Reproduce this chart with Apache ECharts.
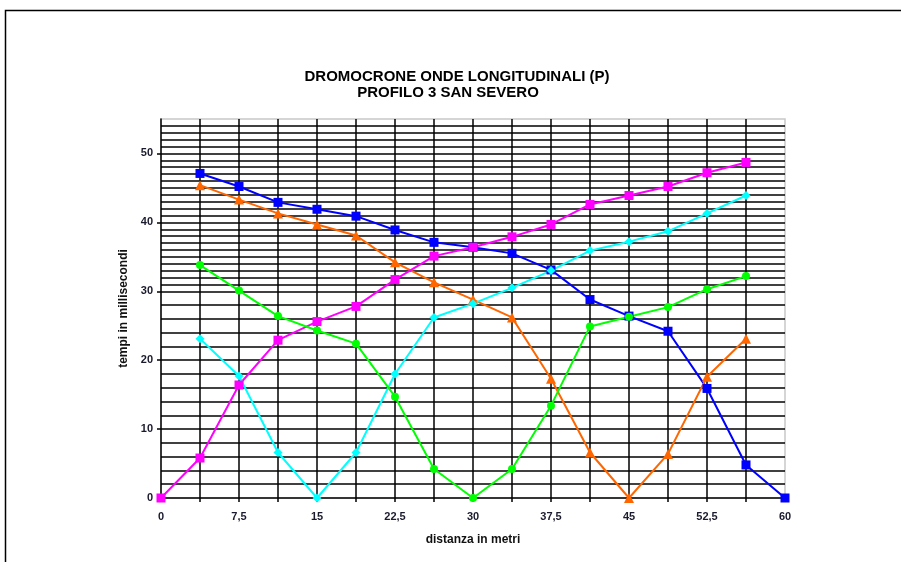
<!DOCTYPE html>
<html>
<head>
<meta charset="utf-8">
<title>Dromocrone onde longitudinali (P)</title>
<script src="https://cdn.jsdelivr.net/npm/echarts@6/dist/echarts.min.js"></script>
<style>
  html, body { margin: 0; padding: 0; background: #fff; }
  #chart { width: 901px; height: 562px; }
</style>
</head>
<body>
<div id="chart"></div>
<script>
// Distances of the geophones (m)
var distanze = [0, 3.75, 7.5, 11.25, 15, 18.75, 22.5, 26.25, 30, 33.75, 37.5, 41.25, 45, 48.75, 52.5, 56.25, 60];

// First-arrival times (ms) for each shot point; null where the shot has no reading
var tempiScoppio60 = [null, 47.1, 45.2, 42.9, 41.9, 40.9, 38.9, 37.1, 36.4, 35.5, 33.1, 28.8, 26.4, 24.2, 15.9, 4.8, 0];
var tempiScoppio45 = [null, 45.4, 43.3, 41.3, 39.7, 38.1, 34.2, 31.3, 28.8, 26.2, 17.3, 6.6, 0, 6.4, 17.6, 23.1, null];
var tempiScoppio0  = [0, 5.8, 16.4, 22.9, 25.6, 27.8, 31.7, 35.1, 36.4, 37.9, 39.7, 42.6, 43.9, 45.2, 47.2, 48.7, null];
var tempiScoppio15 = [null, 23.1, 17.7, 6.6, 0, 6.6, 18.0, 26.2, 28.2, 30.5, 33.0, 35.9, 37.2, 38.7, 41.3, 43.9, null];
var tempiScoppio30 = [null, 33.8, 30.1, 26.4, 24.3, 22.4, 14.7, 4.2, 0, 4.2, 13.4, 24.9, 26.3, 27.7, 30.3, 32.2, null];

// Axis tick labels
var xTickValues = [0, 7.5, 15, 22.5, 30, 37.5, 45, 52.5, 60];
var yTickValues = [0, 10, 20, 30, 40, 50];

function pairs(values) {
  var out = [];
  for (var i = 0; i < distanze.length; i++) {
    if (values[i] !== null) out.push([distanze[i], values[i]]);
  }
  return out;
}

var NONE = 'rgba(0,0,0,0)';

// Horizontal grid: every 2 ms below 30 ms, every 1 ms above
var hGridColors = [];
for (var v = 0; v <= 55; v++) {
  if (v === 0 || v === 55) hGridColors.push(NONE);
  else if (v < 30 && v % 2 === 1) hGridColors.push(NONE);
  else hGridColors.push('#000');
}
// Vertical grid every 3.75 m; the right edge is the plot frame
var vGridColors = [];
for (var k = 0; k <= 16; k++) vGridColors.push(k === 0 || k === 16 ? NONE : '#000');

var fontFam = '"Liberation Sans", Arial, sans-serif';
var labelStyle = { fontFamily: fontFam, fontSize: 11, fontWeight: 'bold', color: '#1a1a2e' };

function serie(name, data, color, symbol, size) {
  return {
    name: name,
    type: 'line',
    data: pairs(data),
    symbol: symbol,
    symbolSize: size,
    showSymbol: true,
    lineStyle: { color: color, width: 2 },
    itemStyle: { color: color },
    emphasis: { disabled: true },
    z: 5
  };
}

var chart = echarts.init(document.getElementById('chart'), null, { renderer: 'canvas' });

chart.setOption({
  animation: false,
  backgroundColor: '#fff',
  graphic: [{
    type: 'rect',
    shape: { x: 5.5, y: 10.5, width: 920, height: 580 },
    style: { fill: 'none', stroke: '#000', lineWidth: 1.5 },
    silent: true,
    z: -10
  }],
  title: [{
    text: 'DROMOCRONE ONDE LONGITUDINALI (P)',
    left: 452,
    textAlign: 'center',
    top: 64,
    textStyle: { fontFamily: fontFam, fontSize: 15, fontWeight: 'bold', color: '#000' }
  }, {
    text: 'PROFILO 3 SAN SEVERO',
    left: 443,
    textAlign: 'center',
    top: 80,
    textStyle: { fontFamily: fontFam, fontSize: 15, fontWeight: 'bold', color: '#000' }
  }],
  grid: {
    left: 161,
    right: 116,
    top: 119,
    bottom: 64,
    show: true,
    borderColor: '#c8c8c8',
    borderWidth: 1.5,
    backgroundColor: '#fff'
  },
  xAxis: {
    type: 'value',
    min: 0,
    max: 60,
    interval: 3.75,
    name: 'distanza in metri',
    nameLocation: 'middle',
    nameGap: 36,
    nameTextStyle: { fontFamily: fontFam, fontSize: 12, fontWeight: 'bold', color: '#111' },
    axisLine: { show: true, onZero: false, lineStyle: { color: '#000', width: 1.5 } },
    axisTick: { show: true, length: 4, lineStyle: { color: '#000', width: 1.5 } },
    axisLabel: Object.assign({
      customValues: xTickValues,
      formatter: function (v) { return String(v).replace('.', ','); },
      margin: 13
    }, labelStyle),
    splitLine: { show: true, lineStyle: { color: vGridColors, width: 1.5 } }
  },
  yAxis: [{
    // fine horizontal grid
    type: 'value',
    min: 0,
    max: 55,
    interval: 1,
    axisLine: { show: true, onZero: false, lineStyle: { color: '#000', width: 1.5 } },
    axisTick: { show: false },
    axisLabel: { show: false },
    splitLine: { show: true, lineStyle: { color: hGridColors, width: 1.5 } }
  }, {
    // labelled scale with ticks every 10 ms
    type: 'value',
    position: 'left',
    min: 0,
    max: 55,
    interval: 10,
    name: 'tempi in millisecondi',
    nameLocation: 'middle',
    nameGap: 24,
    nameRotate: 90,
    nameTextStyle: { fontFamily: fontFam, fontSize: 12, fontWeight: 'bold', color: '#111' },
    axisLine: { show: false },
    axisTick: { show: true, customValues: yTickValues, length: 4, lineStyle: { color: '#000', width: 1.5 } },
    axisLabel: Object.assign({ customValues: yTickValues, margin: 8 }, labelStyle),
    splitLine: { show: false }
  }],
  series: [
    serie('scoppio 60 m', tempiScoppio60, '#0000ff', 'rect', 9),
    serie('scoppio 45 m', tempiScoppio45, '#ff6600', 'triangle', 10),
    serie('scoppio 0 m', tempiScoppio0, '#ff00ff', 'rect', 9),
    serie('scoppio 15 m', tempiScoppio15, '#00ffff', 'diamond', 9),
    serie('scoppio 30 m', tempiScoppio30, '#00ff00', 'circle', 8)
  ]
});
</script>
</body>
</html>
